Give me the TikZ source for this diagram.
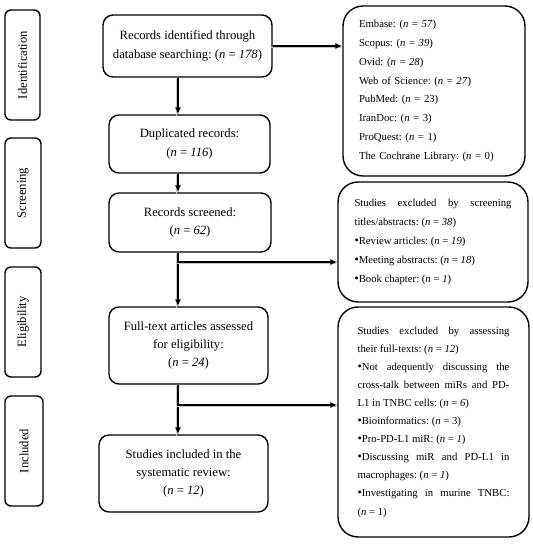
\documentclass[tikz,border=0pt]{standalone}
\usepackage{fontspec}
\setmainfont{Liberation Serif}
\usetikzlibrary{arrows.meta}
\frenchspacing
\newcommand{\nit}[1]{(\textit{n} = \textit{#1})}
\newcommand{\nup}[1]{(\textit{n} = #1)}
\newcommand{\bul}{{\scriptsize\textbullet}}
\begin{document}
\begin{tikzpicture}[x=0.02cm,y=-0.02cm,
    every node/.style={font=\fontsize{7.2}{10.4}\selectfont},
    stage/.style={draw,thick,rounded corners=0.12cm,rotate=90,minimum width=2.2cm},
    mainbox/.style={draw,thick,rounded corners=0.2cm,align=center},
    sidebox/.style={draw,thick,rounded corners=0.4cm,font=\fontsize{6.1}{10.7}\selectfont},
    flow/.style={thick,-{Latex[length=4pt,width=3.5pt]},
      preaction={draw=gray!45,thick,-,transform canvas={xshift=-0.8pt,yshift=-0.8pt}}}]
  \useasboundingbox (0,0) rectangle (533,550);
  % stages
  \node[stage,minimum height=0.7cm] (sid) at (22.5,65) {Identification};
  \node[stage,minimum height=0.72cm] (sscr) at (23,193) {Screening};
  \node[stage,minimum height=0.72cm] (selig) at (23,322) {Eligibility};
  \node[stage,minimum height=0.76cm] (sinc) at (24,451) {Included};
  % main column
  \node[mainbox,minimum width=3.38cm,minimum height=1.24cm] (rec) at (187.5,46)
    {Records identified through\\ database searching: \nit{178}};
  \node[mainbox,minimum width=3.22cm,minimum height=1.16cm] (dup) at (189.5,144)
    {Duplicated records:\\ \nit{116}};
  \node[mainbox,minimum width=3.24cm,minimum height=1.18cm] (scr) at (190,222.5)
    {Records screened:\\ \nit{62}};
  \node[mainbox,minimum width=3.18cm,minimum height=1.54cm] (ful) at (188.5,345.5)
    {Full-text articles assessed\\ for eligibility:\\ \nit{24}};
  \node[mainbox,minimum width=3.38cm,minimum height=1.54cm] (inc) at (183.5,473.5)
    {Studies included in the\\ systematic review:\\ \nit{12}};
  % side boxes
  \node[sidebox,minimum width=3.64cm,minimum height=3.4cm,text width=3.0cm,align=left] (db) at (434,91)
    {Embase: \nit{57}\\ Scopus: \nit{39}\\ Ovid: \nit{28}\\ Web of Science: \nit{27}\\
     PubMed: \nup{23}\\ IranDoc: \nup{3}\\ ProQuest: \nup{1}\\ The Cochrane Library: \nup{0}};
  \node[sidebox,minimum width=3.8cm,minimum height=2.4cm,text width=3.14cm,align=justify,
    font=\fontsize{6.1}{10.9}\selectfont] (exa) at (433,242)
    {Studies excluded by screening\linebreak titles/abstracts: \nit{38}\\
     \bul Review articles: \nit{19}\\ \bul Meeting abstracts: \nit{18}\\
     \bul Book chapter: \nit{1}};
  \node[sidebox,minimum width=3.82cm,minimum height=4.6cm,text width=3.04cm,align=justify,
    font=\fontsize{6.1}{10.3}\selectfont] (exb) at (433.5,422)
    {Studies excluded by assessing\linebreak their full-texts: \nit{12}\\
     \bul Not adequently discussing the\linebreak cross-talk between miRs and PD-\linebreak
     L1 in TNBC cells: \nit{6}\\
     \bul Bioinformatics: \nup{3}\\ \bul Pro-PD-L1 miR: \nit{1}\\
     \bul Discussing miR and PD-L1 in\linebreak macrophages: \nit{1}\\
     \bul Investigating in murine TNBC:\linebreak \nup{1}};
  % connectors
  \coordinate (sp) at (178,0);
  \coordinate (ja) at (178,262);
  \coordinate (jb) at (178,405);
  \draw[flow] (rec.east) to (db.west |- rec.east);
  \draw[flow] (rec.south -| sp) to (dup.north -| sp);
  \draw[flow] (dup.south -| sp) to (scr.north -| sp);
  \draw[flow] (scr.south -| sp) to (ful.north -| sp);
  \draw[flow] (ja) to (exa.west |- ja);
  \draw[flow] (ful.south -| sp) to (inc.north -| sp);
  \draw[flow] (jb) to (exb.west |- jb);
\end{tikzpicture}
\end{document}
